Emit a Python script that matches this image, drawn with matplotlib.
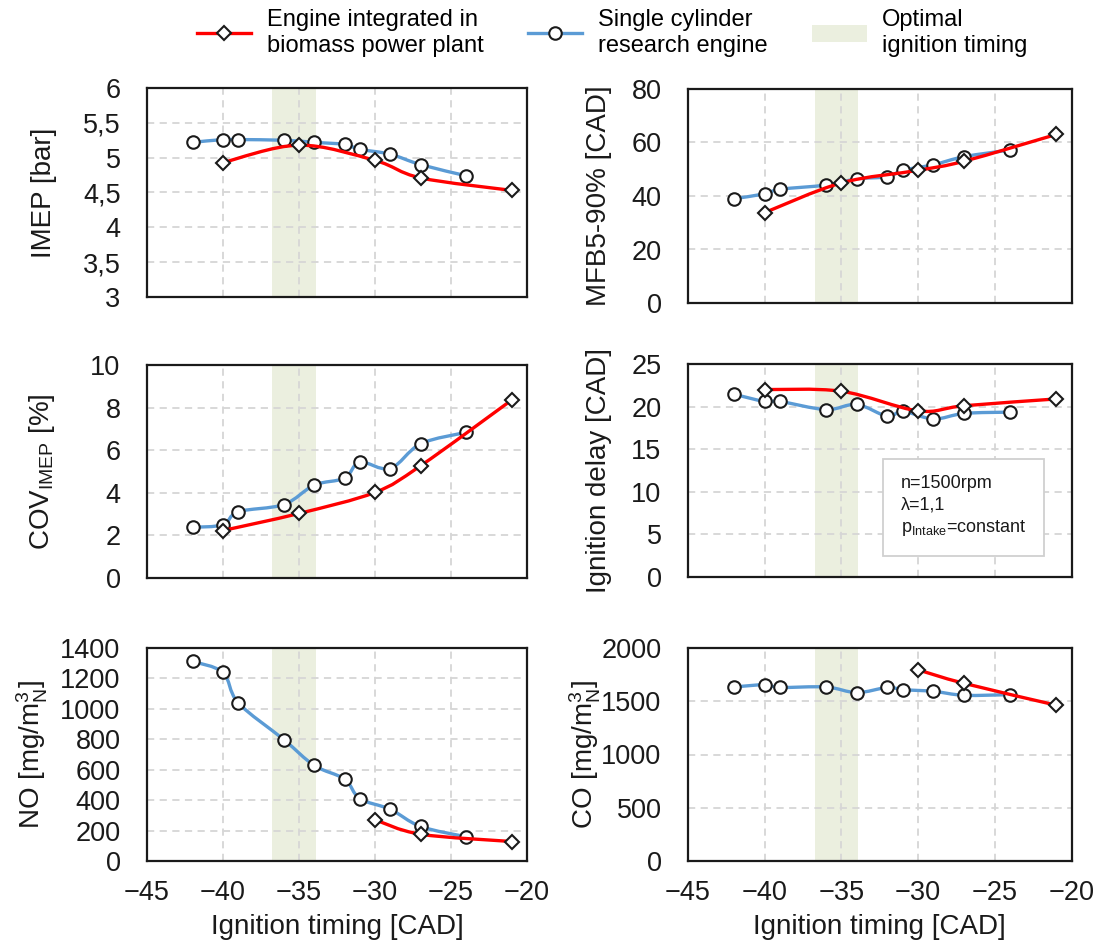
import numpy as np
import matplotlib
matplotlib.use("Agg")
import matplotlib.pyplot as plt
from matplotlib.path import Path
from matplotlib.patches import PathPatch, Patch
from matplotlib.lines import Line2D
from matplotlib.ticker import FuncFormatter, MultipleLocator

plt.rcParams['font.family'] = ['Liberation Sans', 'DejaVu Sans']
plt.rcParams['mathtext.fontset'] = 'custom'
plt.rcParams['mathtext.rm'] = 'Liberation Sans'
plt.rcParams['mathtext.it'] = 'Liberation Sans:italic'

# Ignition timing [CAD]
x_single = [-42, -40, -39, -36, -34, -32, -31, -29, -27, -24]
x_plant = [-40, -35, -30, -27, -21]
x_plant_emis = [-30, -27, -21]

# optimal ignition timing window
opt_window = (-36.75, -33.9)

# single cylinder research engine
imep_single = [5.22, 5.26, 5.26, 5.25, 5.22, 5.19, 5.12, 5.05, 4.90, 4.74]
mfb_single = [39.0, 40.8, 42.5, 44.1, 46.4, 47.2, 49.6, 51.7, 54.7, 57.2]
cov_single = [2.38, 2.50, 3.11, 3.45, 4.36, 4.69, 5.44, 5.14, 6.30, 6.84]
delay_single = [21.45, 20.6, 20.6, 19.65, 20.25, 18.85, 19.45, 18.55, 19.2, 19.35]
no_single = [1312, 1239, 1040, 798, 628, 538, 410, 340, 227, 159]
co_single = [1634, 1655, 1630, 1634, 1581, 1630, 1609, 1593, 1556, 1562]

# engine integrated in biomass power plant
imep_plant = [4.93, 5.18, 4.96, 4.71, 4.53]
mfb_plant = [33.8, 44.9, 49.6, 53.0, 63.0]
cov_plant = [2.23, 3.03, 4.02, 5.27, 8.36]
delay_plant = [22.0, 21.8, 19.5, 20.1, 20.9]
no_plant = [271, 176, 128]
co_plant = [1795, 1668, 1463]

RED = '#FF0000'
BLUE = '#5B9BD5'
SHADE = '#EBEFDF'
GRID = '#D6D6D6'


def smooth_path(x, y):
    # excel-like smoothed line (catmull-rom as cubic bezier)
    pts = np.column_stack([x, y]).astype(float)
    n = len(pts)
    verts = [pts[0]]
    codes = [Path.MOVETO]
    for i in range(n - 1):
        p0 = pts[i - 1] if i > 0 else pts[i]
        p1 = pts[i]
        p2 = pts[i + 1]
        p3 = pts[i + 2] if i + 2 < n else pts[i + 1]
        verts += [p1 + (p2 - p0) / 6, p2 - (p3 - p1) / 6, p2]
        codes += [Path.CURVE4] * 3
    return Path(verts, codes)


def draw_series(ax, x, y, color, marker, ms, z):
    ax.add_patch(PathPatch(smooth_path(x, y), fill=False, edgecolor=color,
                           lw=2.4, zorder=z, capstyle='round'))
    ax.plot(x, y, linestyle='none', marker=marker, ms=ms, mfc='white',
            mec='#1a1a1a', mew=1.5, zorder=z + 0.5)


def comma_fmt(v, pos):
    s = ('%g' % v)
    return s.replace('.', ',')


fig = plt.figure(figsize=(10.93, 9.46), dpi=100)

W, H = 1093.0, 946.0
rects = {
    'imep': (147, 88, 527, 297),
    'mfb': (688, 89, 1071.5, 303),
    'cov': (147, 365, 527, 578),
    'delay': (688, 364, 1071.5, 577),
    'no': (147, 648, 527, 861),
    'co': (688, 648, 1071.5, 861),
}

# ylabel anchor (axes fraction) per panel
label_x = {'imep': -0.237, 'cov': -0.237, 'no': -0.255,
           'mfb': -0.198, 'delay': -0.198, 'co': -0.222}


def make_ax(key):
    l, t, r, b = rects[key]
    return fig.add_axes([l / W, 1 - b / H, (r - l) / W, (b - t) / H])


panels = [
    ('imep', imep_single, x_plant, imep_plant, (3, 6), 0.5, 'IMEP [bar]'),
    ('mfb', mfb_single, x_plant, mfb_plant, (0, 80), 20, 'MFB5-90% [CAD]'),
    ('cov', cov_single, x_plant, cov_plant, (0, 10), 2, r'COV$_\mathrm{IMEP}$ [%]'),
    ('delay', delay_single, x_plant, delay_plant, (0, 25), 5, 'Ignition delay [CAD]'),
    ('no', no_single, x_plant_emis, no_plant, (0, 1400), 200, r'NO [mg/m$^3_\mathrm{N}$]'),
    ('co', co_single, x_plant_emis, co_plant, (0, 2000), 500, r'CO [mg/m$^3_\mathrm{N}$]'),
]

for key, ys, xp, yp, ylim, ystep, ylabel in panels:
    ax = make_ax(key)
    ax.set_xlim(-45, -20)
    ax.set_ylim(*ylim)
    ax.xaxis.set_major_locator(MultipleLocator(5))
    ax.yaxis.set_major_locator(MultipleLocator(ystep))
    ax.yaxis.set_major_formatter(FuncFormatter(comma_fmt))
    ax.set_axisbelow(True)
    ax.grid(True, color=GRID, linestyle=(0, (4, 3)), linewidth=1.3, zorder=0.5)
    ax.axvspan(*opt_window, color=SHADE, lw=0, zorder=0.2)
    for sp in ax.spines.values():
        sp.set_linewidth(1.6)
        sp.set_color('#1a1a1a')
    ax.tick_params(length=0, labelsize=19.5, colors='#1a1a1a')
    ax.tick_params(axis='y', pad=19)
    ax.tick_params(axis='x', pad=14)

    draw_series(ax, x_single, ys, BLUE, 'o', 9, 3)
    draw_series(ax, xp, yp, RED, 'D', 7, 4)

    ax.set_ylabel(ylabel, fontsize=20, color='#1a1a1a')
    ax.yaxis.set_label_coords(label_x[key], 0.5)

    if key in ('no', 'co'):
        ax.set_xlabel('Ignition timing [CAD]', fontsize=20, color='#1a1a1a')
        ax.xaxis.set_label_coords(0.5, -0.25)
    else:
        ax.tick_params(axis='x', labelbottom=False)

    if key == 'delay':
        ax.text(0.555, 0.33, 'n=1500rpm\n\u03bb=1,1\np$_\\mathrm{Intake}$=constant',
                transform=ax.transAxes, fontsize=13, va='center', ha='left',
                linespacing=1.35, color='#1a1a1a', zorder=6,
                bbox=dict(boxstyle='square,pad=1.0', fc='white', ec='#D0D0D0', lw=1.3))

handles = [
    Line2D([], [], color=RED, lw=2.4, marker='D', ms=7, mfc='white', mec='#1a1a1a', mew=1.5),
    Line2D([], [], color=BLUE, lw=2.4, marker='o', ms=9, mfc='white', mec='#1a1a1a', mew=1.5),
    Patch(facecolor=SHADE, edgecolor='none'),
]
labels = ['Engine integrated in\nbiomass power plant',
          'Single cylinder\nresearch engine',
          'Optimal\nignition timing']
fig.legend(handles, labels, loc='center', bbox_to_anchor=(0.56, 0.965), ncol=3,
           frameon=False, fontsize=17, handlelength=2.3, handletextpad=0.65,
           columnspacing=1.9, labelspacing=0.2)

fig.savefig('out.png', dpi=100)
